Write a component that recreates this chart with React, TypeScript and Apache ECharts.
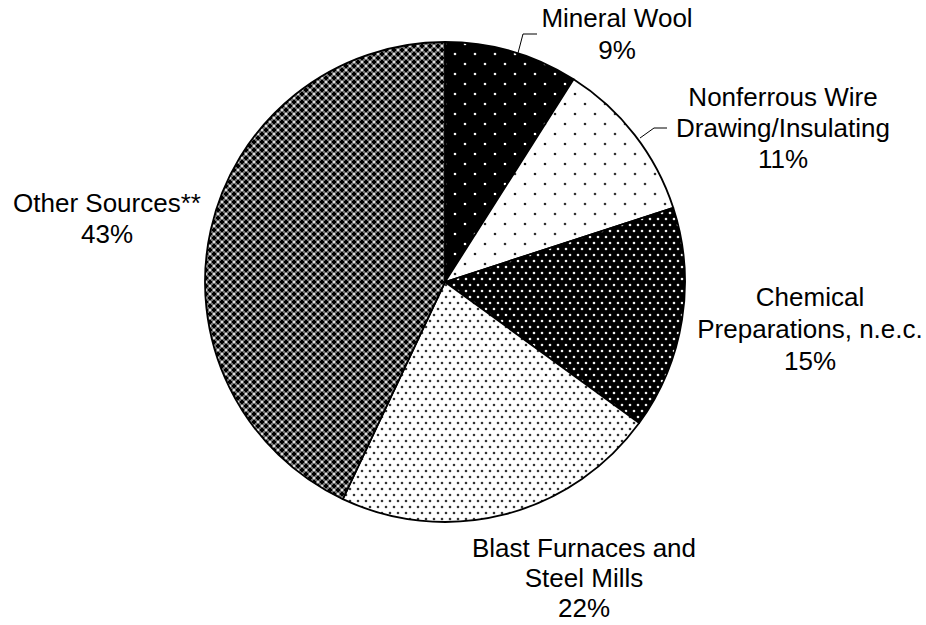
import React, { useEffect, useRef } from 'react';
import * as echarts from 'echarts';

const categories: string[] = [
  'Mineral Wool',
  'Nonferrous Wire\nDrawing/Insulating',
  'Chemical\nPreparations, n.e.c.',
  'Blast Furnaces and\nSteel Mills',
  'Other Sources**',
];
const shares: number[] = [9, 11, 15, 22, 43];

// label centres, line heights and leader lines (layout only)
const labelPos: [number, number][] = [
  [617, 34],
  [783, 128],
  [810, 329],
  [584, 578],
  [107, 218],
];
const labelLineHeights: number[] = [32, 31, 32, 30, 31];
const leaderLines: ([number, number][] | null)[] = [
  [[518, 53], [523, 34], [537, 34]],
  [[640, 138], [654, 128], [667, 128]],
  null,
  null,
  null,
];

function tile(w: number, h: number, draw: (ctx: CanvasRenderingContext2D) => void) {
  const c = document.createElement('canvas');
  c.width = w;
  c.height = h;
  const ctx = c.getContext('2d') as CanvasRenderingContext2D;
  draw(ctx);
  return { image: c, imageWidth: w, imageHeight: h, repeat: 'repeat' } as any;
}

function dots(ctx: CanvasRenderingContext2D, bg: string, fg: string, pts: [number, number][], r: number, w: number, h: number) {
  ctx.fillStyle = bg;
  ctx.fillRect(0, 0, w, h);
  ctx.fillStyle = fg;
  pts.forEach(([x, y]) => {
    ctx.beginPath();
    ctx.arc(x, y, r, 0, Math.PI * 2);
    ctx.fill();
  });
}

function makePatterns() {
  const mineral = tile(20, 20, (ctx) => dots(ctx, '#000', '#f0f0f0', [[5, 4], [15, 14]], 1.3, 20, 20));
  const nonferrous = tile(20, 20, (ctx) => dots(ctx, '#fff', '#333', [[5, 4], [15, 14]], 1.3, 20, 20));
  const chemical = tile(8, 12, (ctx) => dots(ctx, '#000', '#f0f0f0', [[2, 3], [6, 9]], 1.3, 8, 12));
  const blast = tile(8, 12, (ctx) => dots(ctx, '#fff', '#333', [[2, 3], [6, 9]], 1.3, 8, 12));
  const other = tile(8, 8, (ctx) => {
    ctx.fillStyle = '#727272';
    ctx.fillRect(0, 0, 8, 8);
    ctx.fillStyle = '#000';
    [[0, 0], [4, 4]].forEach(([ox, oy]) => {
      ctx.fillRect(ox + 1, oy, 2, 4);
      ctx.fillRect(ox, oy + 1, 4, 2);
    });
    ctx.fillStyle = '#e0e0e0';
    [[4, 0], [0, 4]].forEach(([ox, oy]) => {
      ctx.fillRect(ox + 1, oy + 1, 2, 2);
    });
  });
  return [mineral, nonferrous, chemical, blast, other];
}

export default function App() {
  const ref = useRef<HTMLDivElement>(null);
  useEffect(() => {
    if (!ref.current) return;
    const chart = echarts.init(ref.current, null, { renderer: 'svg' });
    const patterns = makePatterns();
    const data = categories.map((name, i) => ({
      name,
      value: shares[i],
      itemStyle: { color: patterns[i] },
      label: { lineHeight: labelLineHeights[i] },
      labelLine: { show: leaderLines[i] != null },
    }));
    chart.setOption({
      animation: false,
      backgroundColor: '#fff',
      series: [
        {
          type: 'pie',
          center: [445, 282],
          radius: 240,
          startAngle: 90,
          clockwise: true,
          avoidLabelOverlap: false,
          silent: true,
          data,
          itemStyle: { borderColor: '#000', borderWidth: 1.8 },
          label: {
            show: true,
            position: 'outside',
            formatter: (p: any) => `${p.name}\n${p.value}%`,
            fontFamily: '"Liberation Sans", Arial, sans-serif',
            fontSize: 26,
            lineHeight: 32,
            color: '#000',
            align: 'center',
          },
          labelLine: {
            show: true,
            lineStyle: { color: '#000', width: 1 },
          },
          labelLayout: (params: any) => {
            const i = params.dataIndex;
            const res: any = {
              x: labelPos[i][0],
              y: labelPos[i][1],
              align: 'center',
              verticalAlign: 'middle',
            };
            if (leaderLines[i]) res.labelLinePoints = leaderLines[i];
            return res;
          },
          emphasis: { disabled: true },
        },
      ],
    });
    return () => chart.dispose();
  }, []);
  return (
    <div
      ref={ref}
      style={{ position: 'fixed', left: 0, top: 0, width: 926, height: 625 }}
    />
  );
}
